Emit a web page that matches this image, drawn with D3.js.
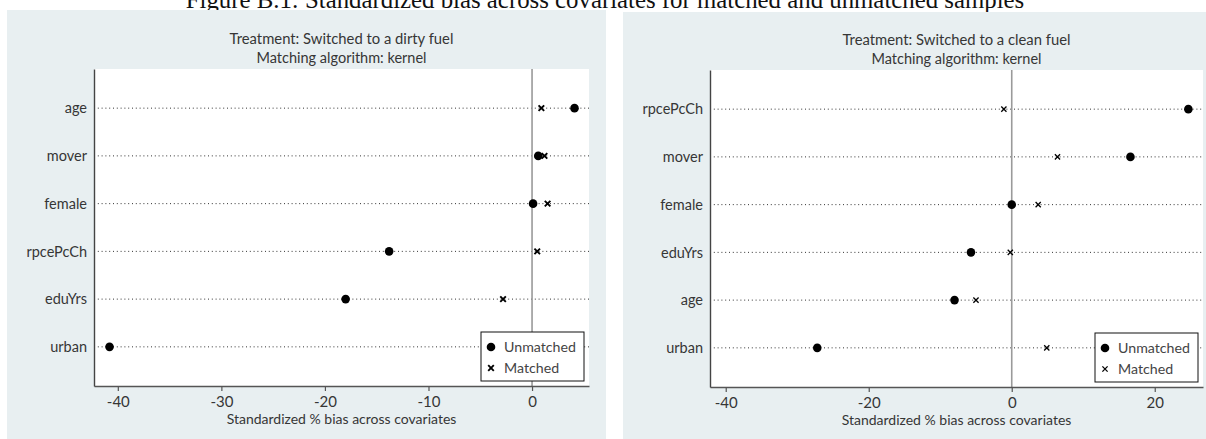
<!DOCTYPE html>
<html>
<head>
<meta charset="utf-8">
<script src="https://cdn.jsdelivr.net/npm/d3@7"></script>
<style>
  html, body { margin: 0; padding: 0; background: #ffffff; }
  svg { display: block; }
</style>
</head>
<body>
<svg id="chart" width="1206" height="439"></svg>
<script>
// ---------------- data ----------------
const figureTitle = "Figure B.1: Standardized bias across covariates for matched and unmatched samples";

const leftTitle1 = "Treatment: Switched to a dirty fuel";
const leftTitle2 = "Matching algorithm: kernel";
const leftCovariates = ["age", "mover", "female", "rpcePcCh", "eduYrs", "urban"];
const leftUnmatched = [4.1, 0.6, 0.1, -13.8, -18.0, -40.8];
const leftMatched   = [0.9, 1.2, 1.5, 0.5, -2.8, 0.4];
const leftTicks = [-40, -30, -20, -10, 0];

const rightTitle1 = "Treatment: Switched to a clean fuel";
const rightTitle2 = "Matching algorithm: kernel";
const rightCovariates = ["rpcePcCh", "mover", "female", "eduYrs", "age", "urban"];
const rightUnmatched = [24.7, 16.6, 0.0, -5.7, -8.0, -27.2];
const rightMatched   = [-1.1, 6.4, 3.7, -0.2, -5.0, 4.9];
const rightTicks = [-40, -20, 0, 20];

const xAxisLabel = "Standardized % bias across covariates";
const legendLabels = ["Unmatched", "Matched"];

// ---------------- drawing ----------------
const svg = d3.select("#chart");
const FONT = "Lato, 'Open Sans', sans-serif";
const TXT = "#363636";

// figure title (partially cut off at the top, as in the source)
const ft = svg.append("text")
  .attr("x", 605).attr("y", 8)
  .attr("text-anchor", "middle")
  .attr("font-family", "'Liberation Serif', 'DejaVu Serif', serif")
  .attr("font-size", 22)
  .attr("fill", "#111")
  .text(figureTitle);
{
  const w = ft.node().getComputedTextLength();
  ft.attr("font-size", 22 * 839 / w);
}

function drawPanel(o) {
  const g = svg.append("g");
  g.append("rect")
    .attr("x", o.bg[0]).attr("y", o.bg[1])
    .attr("width", o.bg[2] - o.bg[0]).attr("height", o.bg[3] - o.bg[1])
    .attr("fill", "#e8eff1");
  g.append("rect")
    .attr("x", o.plot.left).attr("y", o.plot.top)
    .attr("width", o.plot.right - o.plot.left).attr("height", o.plot.bottom - o.plot.top)
    .attr("fill", "#ffffff");

  const x = d3.scaleLinear().domain(o.domain).range([o.plot.left, o.plot.right]);
  const y = d3.scalePoint().domain(o.cats).range([o.plot.top, o.plot.bottom]).padding(0.82);

  const cx = (o.plot.left + o.plot.right) / 2;
  g.append("text").attr("x", cx).attr("y", o.plot.top - 25)
    .attr("text-anchor", "middle").attr("font-family", FONT).attr("font-size", 14.8)
    .attr("fill", TXT).text(o.title1);
  g.append("text").attr("x", cx).attr("y", o.plot.top - 6)
    .attr("text-anchor", "middle").attr("font-family", FONT).attr("font-size", 14.5)
    .attr("fill", TXT).text(o.title2);

  g.append("g").selectAll("line").data(o.cats).join("line")
    .attr("x1", o.plot.left).attr("x2", o.plot.right)
    .attr("y1", d => y(d)).attr("y2", d => y(d))
    .attr("stroke", "#333").attr("stroke-width", 1)
    .attr("stroke-dasharray", "1,2.8");

  g.append("line")
    .attr("x1", x(0)).attr("x2", x(0))
    .attr("y1", o.plot.top).attr("y2", o.plot.bottom)
    .attr("stroke", "#9a9a9a").attr("stroke-width", 1.6);

  const rows = o.cats.map((c, i) => ({ c, u: o.unmatched[i], m: o.matched[i] }));
  const s = o.xSize;
  g.append("g").selectAll("path").data(rows).join("path")
    .attr("transform", d => `translate(${x(d.m)},${y(d.c)})`)
    .attr("d", `M${-s},${-s}L${s},${s}M${-s},${s}L${s},${-s}`)
    .attr("stroke", "#000").attr("stroke-width", o.xStroke).attr("fill", "none");
  g.append("g").selectAll("circle").data(rows).join("circle")
    .attr("cx", d => x(d.u)).attr("cy", d => y(d.c))
    .attr("r", 4.3).attr("fill", "#000");

  const lw = 103, lh = 49;
  const lx = o.plot.right - 5 - lw, ly = o.plot.bottom - 5 - lh;
  const lg = g.append("g").attr("transform", `translate(${lx},${ly})`);
  lg.append("rect").attr("width", lw).attr("height", lh)
    .attr("fill", "#fff").attr("stroke", "#111").attr("stroke-width", 1);
  lg.append("circle").attr("cx", 10).attr("cy", 15).attr("r", 4.3).attr("fill", "#000");
  lg.append("path").attr("transform", "translate(10,36)")
    .attr("d", `M${-s},${-s}L${s},${s}M${-s},${s}L${s},${-s}`)
    .attr("stroke", "#000").attr("stroke-width", o.xStroke);
  lg.selectAll("text").data(legendLabels).join("text")
    .attr("x", 23).attr("y", (d, i) => 15 + i * 21)
    .attr("dy", "0.35em")
    .attr("font-family", FONT).attr("font-size", 14.2).attr("fill", "#444")
    .text(d => d);

  const xa = g.append("g").attr("transform", `translate(0,${o.plot.bottom})`)
    .call(d3.axisBottom(x).tickValues(o.ticks).tickSize(5).tickSizeOuter(0)
      .tickPadding(5).tickFormat(d => String(d)));
  xa.select(".domain").attr("stroke", "#555").attr("stroke-width", 1.4);
  xa.selectAll(".tick line").attr("stroke", "#555").attr("stroke-width", 1.2);
  xa.selectAll(".tick text").attr("font-family", FONT).attr("font-size", 15).attr("fill", TXT);

  const ya = g.append("g").attr("transform", `translate(${o.plot.left},0)`)
    .call(d3.axisLeft(y).tickSize(0).tickPadding(7));
  ya.select(".domain").attr("stroke", "#444").attr("stroke-width", 1.4);
  ya.selectAll(".tick text").attr("font-family", FONT).attr("font-size", 14.5).attr("fill", TXT);

  g.append("text").attr("x", cx).attr("y", o.plot.bottom + 38)
    .attr("text-anchor", "middle").attr("font-family", FONT).attr("font-size", 14)
    .attr("fill", TXT).text(xAxisLabel);
}

drawPanel({
  bg: [7, 10, 606, 439],
  plot: { left: 94, right: 589, top: 69, bottom: 386 },
  domain: [-42.3, 5.5],
  cats: leftCovariates, unmatched: leftUnmatched, matched: leftMatched,
  ticks: leftTicks, title1: leftTitle1, title2: leftTitle2,
  xSize: 2.8, xStroke: 1.9
});

drawPanel({
  bg: [623, 12, 1206, 439],
  plot: { left: 710, right: 1203, top: 70, bottom: 387 },
  domain: [-42.2, 26.75],
  cats: rightCovariates, unmatched: rightUnmatched, matched: rightMatched,
  ticks: rightTicks, title1: rightTitle1, title2: rightTitle2,
  xSize: 2.6, xStroke: 1.3
});
</script>
</body>
</html>
